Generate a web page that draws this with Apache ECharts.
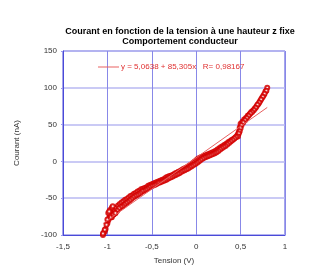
<!DOCTYPE html>
<html><head><meta charset="utf-8">
<script src="https://cdn.jsdelivr.net/npm/echarts@6/dist/echarts.min.js"></script>
<style>html,body{margin:0;padding:0;background:#fff}#c{width:325px;height:270px}</style>
</head><body><div id="c"></div>
<script>
// Sweep A (tension V, courant nA)
const voltA = [-1.05,-1.04,-1.03,-1.02,-1.0,-0.98,-0.96,-0.94,-0.92,-0.9,-0.88,-0.86,-0.84,-0.82,-0.8,-0.78,-0.76,-0.74,-0.72,-0.7,-0.68,-0.66,-0.64,-0.62,-0.6,-0.58,-0.56,-0.54,-0.52,-0.5,-0.48,-0.46,-0.44,-0.42,-0.4,-0.38,-0.36,-0.34,-0.32,-0.3,-0.28,-0.26,-0.24,-0.22,-0.2,-0.18,-0.16,-0.14,-0.12,-0.1,-0.08,-0.06,-0.04,-0.02,0,0.02,0.04,0.06,0.08,0.1,0.12,0.14,0.16,0.18,0.2,0.22,0.24,0.26,0.28,0.3,0.32,0.34,0.36,0.38,0.4,0.42,0.44,0.46,0.47,0.48,0.49,0.5,0.52,0.54,0.56,0.58,0.6,0.62,0.64,0.66,0.68,0.7,0.72,0.74,0.76,0.78,0.8];
const currA = [-100,-97,-95,-92,-84,-77,-72,-69,-66,-63,-60,-58,-56,-54,-52,-51,-49,-47,-46,-44,-43,-41,-40,-38,-37,-36,-35,-33,-32,-31,-30,-29,-28,-27,-26,-25,-24,-22,-21,-20,-19,-18,-16.5,-15.5,-14,-13,-11.5,-10,-9,-7.5,-6,-4.5,-2.5,-0.5,1.5,3.5,5,6,7,8,9,10,11,12,13,14.5,16,18,19.5,21,22.5,24,26,27.5,29,30.5,32.5,35,37,40,46,51,54,57,59,62,64,67,69,72,75,78,82,86,90,95,100];
// Sweep B (return)
const voltB = [0.79,0.77,0.75,0.73,0.71,0.69,0.67,0.65,0.63,0.61,0.59,0.57,0.55,0.53,0.51,0.5,0.49,0.48,0.47,0.45,0.43,0.41,0.39,0.37,0.35,0.33,0.31,0.29,0.27,0.25,0.23,0.21,0.19,0.17,0.15,0.13,0.11,0.09,0.07,0.05,0.03,0.01,-0.01,-0.03,-0.05,-0.07,-0.09,-0.11,-0.13,-0.15,-0.17,-0.19,-0.21,-0.23,-0.25,-0.27,-0.29,-0.31,-0.33,-0.35,-0.37,-0.39,-0.41,-0.43,-0.45,-0.47,-0.49,-0.51,-0.53,-0.55,-0.57,-0.59,-0.61,-0.63,-0.65,-0.67,-0.69,-0.71,-0.73,-0.75,-0.77,-0.79,-0.81,-0.83,-0.85,-0.87,-0.89,-0.91,-0.93,-0.95,-0.97,-0.99,-1.01,-1.03,-1.05];
const currB = [96,92,88,84,80,77,73,70,67,65,62,59,56,53,49,45,41,38,34,33,31,29,27,25,23,21,19.5,18,16,14,12.5,11,10,9,8,7,6,5,3.5,2,0,-2,-3.5,-5,-6.5,-8,-9.5,-10.5,-12,-13,-14.5,-16,-17,-18.5,-19.5,-21,-22,-23,-24.5,-25.5,-26.5,-27.5,-28.5,-29.5,-31,-32,-33,-34,-35.5,-37,-38.5,-40,-41,-43,-44.5,-46,-47.5,-49,-51,-53,-55,-57,-59,-61,-62,-64,-67,-70,-72,-76,-73,-80,-86,-93,-98];
// scattered extra points near the negative end
const voltC = [-1.0,-0.99,-0.97,-0.96,-0.95,-0.93,-0.91,-0.98,-0.94];
const currC = [-79,-70,-66,-76,-63,-72,-70,-68,-61];
const tickX = ['-1,5','-1','-0,5','0','0,5','1'];
const fitIntercept = 5.0638, fitSlope = 85.305;
const fitLabel = 'y = 5,0638 + 85,305x   R= 0,98167';

const pts = [];
voltA.forEach((v,i)=>pts.push([v,currA[i]]));
voltB.forEach((v,i)=>pts.push([v,currB[i]]));
voltC.forEach((v,i)=>pts.push([v,currC[i]]));
const allV = voltA.concat(voltB, voltC);
const vmin = Math.min(...allV), vmax = Math.max(...allV);
const fit = [[vmin, fitIntercept+fitSlope*vmin],[vmax, fitIntercept+fitSlope*vmax]];

const ch = echarts.init(document.getElementById('c'), null, {renderer:'canvas'});
const lab = {fontFamily:'Liberation Sans, Arial, sans-serif', fontSize:8, color:'#333'};
ch.setOption({
  animation:false,
  title:{text:'Courant en fonction de la tension à une hauteur z fixe\nComportement conducteur',
    left:175, top:22, textAlign:'center',
    textStyle:{fontFamily:'Liberation Sans, Arial, sans-serif', fontSize:9, fontWeight:'bold', color:'#000', lineHeight:10}},
  legend:{data:[{name:fitLabel, icon:'rect'}], left:93, top:58, itemWidth:21, itemHeight:1, itemGap:2,
    textStyle:{fontFamily:'Liberation Sans, Arial, sans-serif', fontSize:8, color:'#e03030', padding:[0,0,0,-3]}},
  grid:{left:63, right:40, top:51, bottom:35, show:true, borderColor:'#4a4ad8', borderWidth:1, backgroundColor:'#fff'},
  xAxis:{type:'value', min:-1.5, max:1, interval:0.5,
    name:'Tension (V)', nameLocation:'middle', nameGap:22, nameTextStyle:lab,
    axisLine:{onZero:false, lineStyle:{color:'#4a4ad8'}}, axisTick:{show:false},
    axisLabel:Object.assign({margin:8, formatter:(v)=>tickX[Math.round((v+1.5)/0.5)]}, lab),
    splitLine:{lineStyle:{color:'#8888e8', width:1}}},
  yAxis:{type:'value', min:-100, max:150, interval:50,
    name:'Courant (nA)', nameLocation:'middle', nameGap:42, nameTextStyle:lab,
    axisLine:{show:true, onZero:false, lineStyle:{color:'#4a4ad8'}}, axisTick:{show:true, length:2, lineStyle:{color:'#9a9aee'}},
    axisLabel:Object.assign({margin:6}, lab),
    splitLine:{lineStyle:{color:'#b8b8f2', width:1.5}}},
  series:[
    {type:'scatter', name:'data', data:pts, symbol:'emptyCircle', symbolSize:4,
      itemStyle:{color:'#d40000', borderColor:'#d40000', borderWidth:0.8, opacity:0.85}, z:3},
    {type:'line', name:fitLabel, data:fit, symbol:'none', lineStyle:{color:'#e86060', width:1}, itemStyle:{color:'#e86060'}, z:4}
  ]
});
</script></body></html>
